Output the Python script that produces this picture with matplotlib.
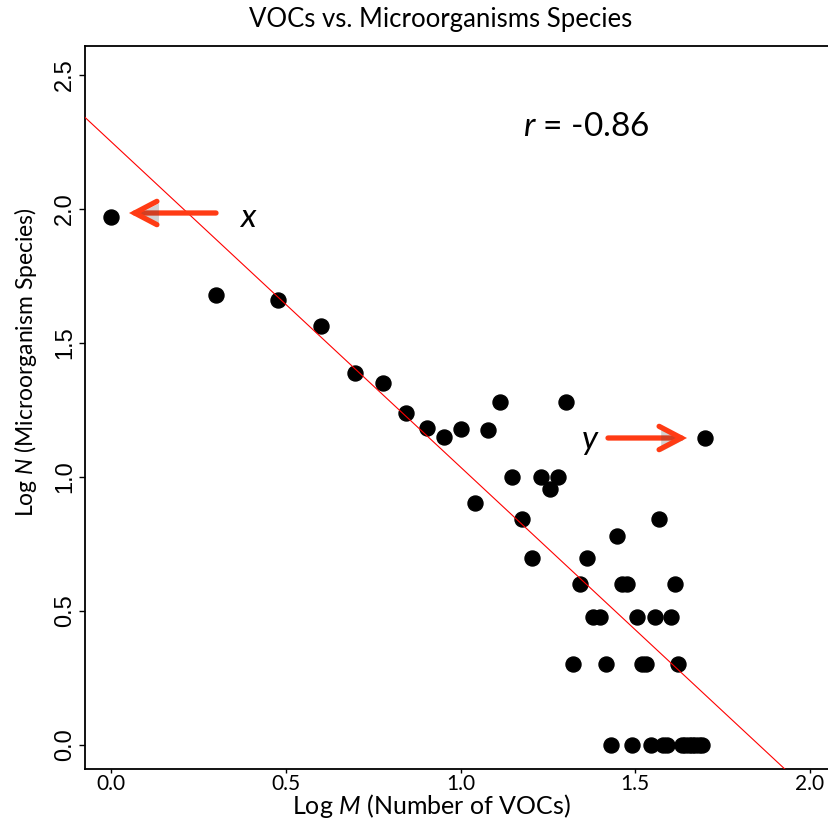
import numpy as np
import matplotlib
matplotlib.use("Agg")
import matplotlib.pyplot as plt
import matplotlib.patheffects as pe

# log10 of number of VOCs (M) and of microorganism species (N)
log_m = [0.000, 0.301, 0.477, 0.602, 0.699, 0.778, 0.845, 0.903, 0.954, 1.000,
         1.041, 1.079, 1.114, 1.146, 1.176, 1.204, 1.230, 1.255, 1.279, 1.301,
         1.322, 1.342, 1.362, 1.380, 1.398, 1.415, 1.431, 1.447, 1.462, 1.477,
         1.491, 1.505, 1.519, 1.531, 1.544, 1.556, 1.568, 1.580, 1.591, 1.602,
         1.613, 1.623, 1.633, 1.643, 1.653, 1.663, 1.672, 1.681, 1.690, 1.699]
log_n = [1.970, 1.680, 1.660, 1.563, 1.389, 1.351, 1.239, 1.183, 1.150, 1.180,
         0.903, 1.176, 1.279, 1.000, 0.845, 0.699, 1.000, 0.954, 1.000, 1.279,
         0.301, 0.602, 0.699, 0.477, 0.477, 0.301, 0.000, 0.778, 0.602, 0.602,
         0.000, 0.477, 0.301, 0.301, 0.000, 0.477, 0.845, 0.000, 0.000, 0.477,
         0.602, 0.301, 0.000, 0.000, 0.000, 0.000, 0.000, 0.000, 0.000, 1.146]

x_ticks = [0.0, 0.5, 1.0, 1.5, 2.0]
y_ticks = [0.0, 0.5, 1.0, 1.5, 2.0, 2.5]
r_text = "-0.86"

plt.rcParams["mathtext.fontset"] = "custom"
plt.rcParams["mathtext.rm"] = "Lato"
plt.rcParams["mathtext.it"] = "Lato:italic"

W, H = 829, 821
fig = plt.figure(figsize=(W / 100, H / 100), dpi=100)
ax = fig.add_axes([85 / W, (H - 769) / H, 753 / W, 723 / H])
ax.set_xlim(-0.0745, 2.08)
ax.set_ylim(-0.0896, 2.608)

ax.plot(log_m, log_n, "o", color="black", ms=10.8, zorder=2)

# least-squares fit of log N on log M
slope, intercept = np.polyfit(log_m, log_n, 1)
ax.axline((0, intercept), slope=slope, color="red", lw=0.8, zorder=3)

for side in ["left", "bottom", "top"]:
    ax.spines[side].set_linewidth(1.3)
ax.spines["right"].set_visible(False)

ax.set_xticks(x_ticks)
ax.set_xticklabels([f"{v:.1f}" for v in x_ticks], fontfamily="Lato", fontsize=15)
ax.set_yticks(y_ticks)
ax.set_yticklabels([f"{v:.1f}" for v in y_ticks], fontfamily="Liberation Sans",
                   fontsize=17, rotation=90, va="center")
ax.tick_params(axis="x", length=3, width=1, pad=0.5, direction="out")
ax.tick_params(axis="y", length=4, width=1, pad=2.5, direction="out")

fig.text(441 / W, 1 - 19 / H, "VOCs vs. Microorganisms Species",
         ha="center", va="center", fontfamily="Lato", fontsize=18.5)
fig.text(431 / W, 1 - 806 / H, "Log $M$ (Number of VOCs)",
         ha="center", va="center", fontfamily="Lato", fontsize=18)
fig.text(26 / W, 1 - 362 / H, "Log $N$ (Microorganism Species)",
         ha="center", va="center", rotation=90, fontfamily="Lato", fontsize=16.5)

fig.text(586 / W, 1 - 127 / H, f"$r$ = {r_text}", ha="center", va="center",
         fontfamily="Lato", fontsize=24)

arrow_color = "#ff3b14"
shadow = [pe.SimplePatchShadow(offset=(1.5, -1.5), alpha=0.25), pe.Normal()]
arrow_kw = dict(arrowstyle="->,head_length=0.8,head_width=0.42", lw=3.8,
                color=arrow_color, shrinkA=0, shrinkB=0, mutation_scale=20,
                joinstyle="miter", capstyle="round")

ax.annotate("", xy=(129, H - 213), xytext=(216, H - 213),
            xycoords="figure pixels", textcoords="figure pixels",
            arrowprops=dict(**arrow_kw)).arrow_patch.set_path_effects(shadow)
ax.annotate("", xy=(687, H - 438), xytext=(608, H - 438),
            xycoords="figure pixels", textcoords="figure pixels",
            arrowprops=dict(**arrow_kw)).arrow_patch.set_path_effects(shadow)

fig.text(248 / W, 1 - 218 / H, "x", ha="center", va="center",
         fontfamily="Lato", style="italic", fontsize=24)
fig.text(590 / W, 1 - 440 / H, "y", ha="center", va="center",
         fontfamily="Lato", style="italic", fontsize=24)

fig.savefig("out.png", dpi=100)
